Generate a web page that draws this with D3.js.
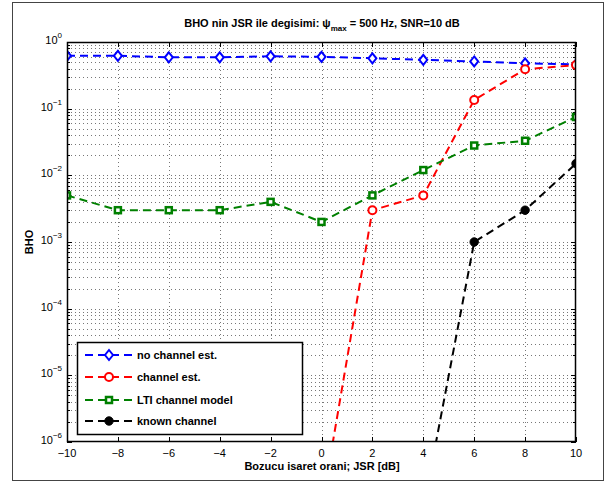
<!DOCTYPE html>
<html>
<head>
<meta charset="utf-8">
<script src="https://cdn.jsdelivr.net/npm/d3@7"></script>
<style>
  body { margin: 0; background: #fff; }
  svg { font-family: "Liberation Sans", Arial, Helvetica, sans-serif; }
</style>
</head>
<body>
<svg id="chart" width="607" height="485"></svg>
<script>
// chart values
var jsr = [-10, -8, -6, -4, -2, 0, 2, 4, 6, 8, 10];
var noChanEst = [0.62, 0.62, 0.59, 0.59, 0.61, 0.60, 0.57, 0.54, 0.51, 0.48, 0.46];
var chanEst = [null, null, null, null, null, 1e-7, 0.003, 0.005, 0.135, 0.39, 0.45];
var ltiModel = [0.005, 0.003, 0.003, 0.003, 0.004, 0.002, 0.005, 0.012, 0.028, 0.033, 0.075];
var knownChan = [null, null, null, null, null, null, null, 1e-7, 0.001, 0.003, 0.015];
var xTicks = [-10, -8, -6, -4, -2, 0, 2, 4, 6, 8, 10];
var yExps = [0, -1, -2, -3, -4, -5, -6];
var seriesNames = ["no channel est.", "channel est.", "LTI channel model", "known channel"];

var svg = d3.select("#chart");

// figure frame
svg.append("rect")
    .attr("x", 12.5).attr("y", 2.5)
    .attr("width", 591).attr("height", 478)
    .attr("fill", "#fff")
    .attr("stroke", "#444")
    .attr("stroke-width", 1);

// plot area (note: "top" is reserved on window, so use pTop etc.)
var pLeft = 67, pTop = 42, pRight = 576, pBottom = 442;

var x = d3.scaleLinear().domain([-10, 10]).range([pLeft, pRight]);
var y = d3.scaleLog().domain([1e-6, 1]).range([pBottom, pTop]);

var grid = svg.append("g");

// vertical grid
xTicks.forEach(function(t) {
    if (t == -10 || t == 10) return;
    var xx = Math.round(x(t)) + 0.5;
    grid.append("line")
        .attr("x1", xx).attr("x2", xx)
        .attr("y1", pTop).attr("y2", pBottom)
        .attr("stroke", "#777").attr("stroke-width", 1)
        .attr("stroke-dasharray", "1,3");
});

// horizontal grid (major + minor)
var minorVals = [];
for (var e = -6; e < 0; e++) {
    for (var m = 2; m <= 9; m++) minorVals.push(m * Math.pow(10, e));
}
var allY = minorVals.concat(yExps.map(function(e) { return Math.pow(10, e); }));
allY.forEach(function(v) {
    if (v == 1 || v == 1e-6) return;
    var yy = Math.round(y(v)) + 0.5;
    grid.append("line")
        .attr("x1", pLeft).attr("x2", pRight)
        .attr("y1", yy).attr("y2", yy)
        .attr("stroke", "#777").attr("stroke-width", 1)
        .attr("stroke-dasharray", "1,3");
});

// ticks on all four sides
var ticks = svg.append("g").attr("stroke", "#000").attr("stroke-width", 1);
xTicks.forEach(function(t) {
    var xx = Math.round(x(t)) + 0.5;
    ticks.append("line").attr("x1", xx).attr("x2", xx).attr("y1", pBottom).attr("y2", pBottom - 5);
    ticks.append("line").attr("x1", xx).attr("x2", xx).attr("y1", pTop).attr("y2", pTop + 5);
});
allY.forEach(function(v) {
    var yy = Math.round(y(v)) + 0.5;
    var len = minorVals.indexOf(v) >= 0 ? 3 : 5;
    ticks.append("line").attr("x1", pLeft).attr("x2", pLeft + len).attr("y1", yy).attr("y2", yy);
    ticks.append("line").attr("x1", pRight).attr("x2", pRight - len).attr("y1", yy).attr("y2", yy);
});

// clip
svg.append("clipPath").attr("id", "clip")
    .append("rect")
    .attr("x", pLeft).attr("y", pTop)
    .attr("width", pRight - pLeft).attr("height", pBottom - pTop);

var plot = svg.append("g").attr("clip-path", "url(#clip)");

var series = [
    {name: seriesNames[0], vals: noChanEst, color: "#0000ff", marker: "diamond"},
    {name: seriesNames[1], vals: chanEst, color: "#ff0000", marker: "circle"},
    {name: seriesNames[2], vals: ltiModel, color: "#008000", marker: "square"},
    {name: seriesNames[3], vals: knownChan, color: "#000000", marker: "dot"}
];

var line = d3.line()
    .defined(function(d) { return d.v != null; })
    .x(function(d) { return x(d.x); })
    .y(function(d) { return y(d.v); });

function drawMarker(g, type, cx, cy, color) {
    if (type == "diamond") {
        g.append("path")
            .attr("d", "M" + cx + "," + (cy - 5) + "L" + (cx + 4) + "," + cy + "L" + cx + "," + (cy + 5) + "L" + (cx - 4) + "," + cy + "Z")
            .attr("fill", "#fff").attr("stroke", color).attr("stroke-width", 2);
    } else if (type == "circle") {
        g.append("circle").attr("cx", cx).attr("cy", cy).attr("r", 4)
            .attr("fill", "#fff").attr("stroke", color).attr("stroke-width", 2);
    } else if (type == "square") {
        g.append("rect").attr("x", cx - 3).attr("y", cy - 3).attr("width", 6).attr("height", 6)
            .attr("fill", "#fff").attr("stroke", color).attr("stroke-width", 2.5);
    } else {
        g.append("circle").attr("cx", cx).attr("cy", cy).attr("r", 4.2)
            .attr("fill", color).attr("stroke", color).attr("stroke-width", 1);
    }
}

series.forEach(function(s) {
    var pts = jsr.map(function(xv, i) { return {x: xv, v: s.vals[i]}; });
    plot.append("path")
        .datum(pts)
        .attr("d", line)
        .attr("fill", "none")
        .attr("stroke", s.color)
        .attr("stroke-width", 2)
        .attr("stroke-dasharray", "8,5");
});
series.forEach(function(s) {
    jsr.forEach(function(xv, i) {
        var v = s.vals[i];
        if (v == null) return;
        drawMarker(plot, s.marker, x(xv), y(v), s.color);
    });
});

// axes box
svg.append("rect")
    .attr("x", pLeft + 0.5).attr("y", pTop + 0.5)
    .attr("width", pRight - pLeft - 1).attr("height", pBottom - pTop - 1)
    .attr("fill", "none").attr("stroke", "#000").attr("stroke-width", 1.5);

// x tick labels
xTicks.forEach(function(t) {
    svg.append("text")
        .attr("x", x(t)).attr("y", 457)
        .attr("text-anchor", "middle")
        .attr("font-size", 11)
        .text(t < 0 ? "\u2212" + Math.abs(t) : String(t));
});

// y tick labels
yExps.forEach(function(e) {
    var yy = y(Math.pow(10, e));
    var t = svg.append("text")
        .attr("x", 62).attr("y", yy + 2)
        .attr("text-anchor", "end")
        .attr("font-size", 11);
    t.append("tspan").text("10");
    t.append("tspan").attr("dy", -6).attr("font-size", 8)
        .text(e == 0 ? "0" : "\u2212" + Math.abs(e));
});

// title
var title = svg.append("text")
    .attr("x", 322).attr("y", 27)
    .attr("text-anchor", "middle")
    .attr("font-size", 11).attr("font-weight", "bold");
title.append("tspan").text("BHO nin JSR ile degisimi: \u03c8");
title.append("tspan").attr("dy", 4).attr("font-size", 8).text("max");
title.append("tspan").attr("dy", -4).text(" = 500 Hz, SNR=10 dB");

// axis labels
svg.append("text")
    .attr("x", 322).attr("y", 470)
    .attr("text-anchor", "middle")
    .attr("font-size", 11).attr("font-weight", "bold")
    .text("Bozucu isaret orani; JSR [dB]");

svg.append("text")
    .attr("transform", "translate(33,242) rotate(-90)")
    .attr("text-anchor", "middle")
    .attr("font-size", 11).attr("font-weight", "bold")
    .text("BHO");

// legend
var legend = svg.append("g");
legend.append("rect")
    .attr("x", 77.5).attr("y", 342.5)
    .attr("width", 225).attr("height", 92)
    .attr("fill", "#fff").attr("stroke", "#000").attr("stroke-width", 1.5);

var legendRows = [355, 377, 400, 421];
series.forEach(function(s, i) {
    var ly = legendRows[i];
    legend.append("line")
        .attr("x1", 85).attr("x2", 133)
        .attr("y1", ly).attr("y2", ly)
        .attr("stroke", s.color).attr("stroke-width", 2)
        .attr("stroke-dasharray", "8,5");
    drawMarker(legend, s.marker, 109, ly, s.color);
    legend.append("text")
        .attr("x", 137).attr("y", ly + 4)
        .attr("font-size", 11).attr("font-weight", "bold")
        .text(s.name);
});
</script>
</body>
</html>
